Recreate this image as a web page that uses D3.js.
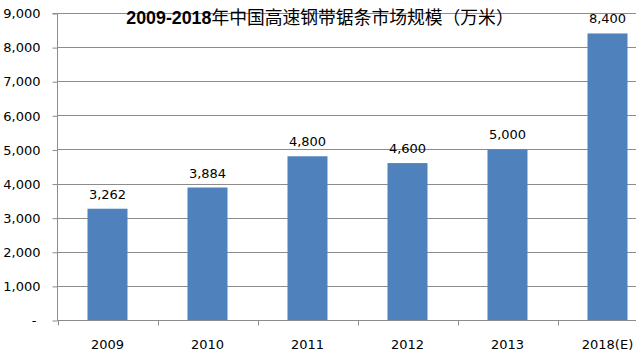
<!DOCTYPE html>
<html><head><meta charset="utf-8">
<script src="https://cdn.jsdelivr.net/npm/d3@7"></script>
<style>
html,body{margin:0;padding:0;background:#fff;}
svg{display:block;}
</style></head>
<body>
<script>
const categories = ["2009","2010","2011","2012","2013","2018(E)"];
const values = [3262, 3884, 4800, 4600, 5000, 8400];
const yTicks = [0,1000,2000,3000,4000,5000,6000,7000,8000,9000];
const title = "2009-2018年中国高速钢带锯条市场规模（万米）";

(function(){
const W = 636, H = 354;
const svg = d3.select("body").append("svg").attr("width", W).attr("height", H);

const pl = 57.5, pr = 657.5, pt = 13, pb = 320;
const x = d3.scaleBand().domain(categories).range([pl, pr]).padding(0);
const y = d3.scaleLinear().domain([0, 9000]).range([pb, pt]);
const gridColor = "#8c8c8c";
const lblFont = "DejaVu Sans, Verdana, sans-serif";

// gridlines
svg.append("g").selectAll("line").data(yTicks).join("line")
  .attr("x1", pl).attr("x2", pr)
  .attr("y1", d => Math.round(y(d)) + 0.5).attr("y2", d => Math.round(y(d)) + 0.5)
  .attr("stroke", gridColor).attr("stroke-width", 1);

// bars
const bw = x.bandwidth() * 0.4;
svg.append("g").selectAll("rect").data(values).join("rect")
  .attr("x", (d, i) => x(categories[i]) + (x.bandwidth() - bw) / 2)
  .attr("width", bw)
  .attr("y", d => y(d))
  .attr("height", d => pb - y(d))
  .attr("fill", "#4F81BD");

// y axis
const yAxis = d3.axisLeft(y).tickValues(yTicks).tickSize(5).tickPadding(12)
  .tickFormat(d => d === 0 ? "-" : d3.format(",")(d));
const ga = svg.append("g").attr("transform", `translate(${pl},0.5)`).call(yAxis);
ga.select(".domain").attr("stroke", gridColor).attr("d", `M-5,${pt}H0V${pb}`);
ga.selectAll(".tick line").attr("stroke", gridColor);
ga.selectAll(".tick text").attr("font-family", lblFont)
  .attr("font-size", 13).attr("fill", "#000")
  .attr("dx", d => d === 0 ? -4 : 0);

// x axis
const xAxis = d3.axisBottom(x).tickSize(0).tickPadding(19);
const gx = svg.append("g").attr("transform", `translate(0,${pb + 0.5})`).call(xAxis);
gx.select(".domain").attr("stroke", gridColor).attr("d", `M${pl},0H${pr}`);
gx.selectAll(".tick text").attr("font-family", lblFont)
  .attr("font-size", 13).attr("fill", "#000");
const bounds = categories.map(c => x(c)).concat([pr]);
gx.append("g").selectAll("line").data(bounds).join("line")
  .attr("x1", d => Math.round(d) + 0.5).attr("x2", d => Math.round(d) + 0.5)
  .attr("y1", 0).attr("y2", 5).attr("stroke", gridColor);

// data labels
svg.append("g").selectAll("text").data(values).join("text")
  .attr("x", (d, i) => x(categories[i]) + x.bandwidth() / 2)
  .attr("y", d => y(d) - 10)
  .attr("text-anchor", "middle")
  .attr("font-family", lblFont)
  .attr("font-size", 13).attr("fill", "#000")
  .text(d => d3.format(",")(d));

// title
const t = svg.append("text").attr("x", 320).attr("y", 24).attr("text-anchor", "middle")
  .attr("font-size", 17.8).attr("fill", "#000");
t.append("tspan").attr("font-family", "Liberation Sans, Arial, sans-serif").attr("font-weight", "bold").text("2009-2018");
t.append("tspan").attr("font-family", "Noto Sans CJK SC, sans-serif").text(title.slice(9));
})();
</script>
</body></html>
